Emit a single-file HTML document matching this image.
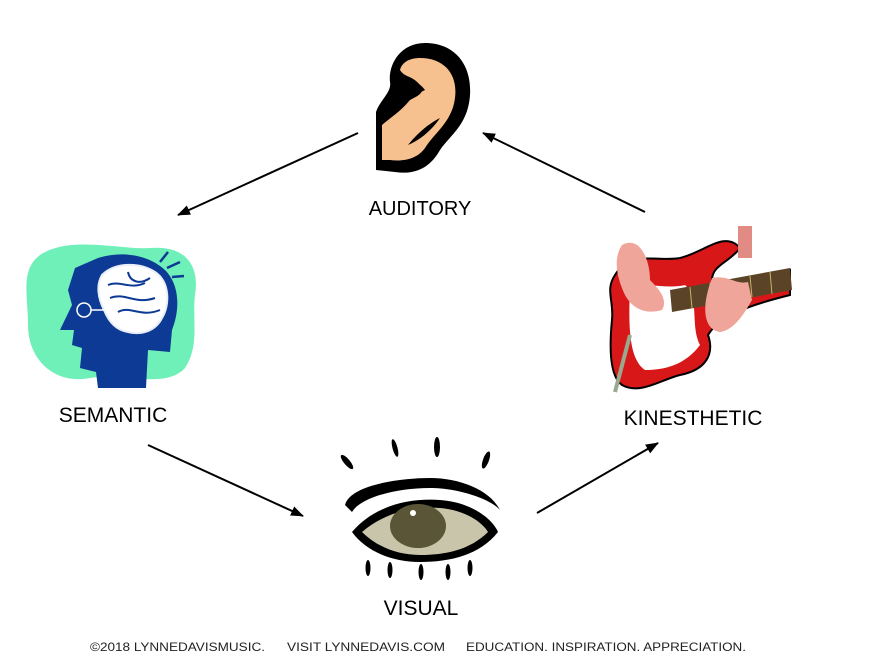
<!DOCTYPE html>
<html><head><meta charset="utf-8"><style>
html,body{margin:0;padding:0;background:#fff}
svg{display:block}
text{font-family:"Liberation Sans",Arial,sans-serif}
</style></head><body>
<svg width="870" height="672" viewBox="0 0 870 672" xmlns="http://www.w3.org/2000/svg">
<defs>
<marker id="ah" markerWidth="13" markerHeight="10" refX="12" refY="5" orient="auto" markerUnits="userSpaceOnUse" viewBox="0 0 13 10">
<path d="M0,0 L13,5 L0,10 Z" fill="#000"/>
</marker>
</defs>
<g stroke="#000" stroke-width="2" marker-end="url(#ah)">
<line x1="358" y1="133" x2="178" y2="215"/>
<line x1="645" y1="212" x2="483" y2="133"/>
<line x1="148" y1="445" x2="303" y2="516"/>
<line x1="537" y1="513" x2="658" y2="443"/>
</g>

<!-- Ear -->
<g>
<path d="M425,43 C455,43 472,65 470,95 C468,125 450,135 440,150 C430,168 415,175 395,172 L376,170 L376,112 C380,100 392,92 390,82 C388,65 400,43 425,43 Z" fill="#000"/>
<path d="M420,58 C445,58 458,75 455,98 C452,122 435,132 425,148 C418,158 405,162 390,160 L382,160 L382,125 C390,118 400,112 410,100 C420,95 425,92 420,85 C412,75 405,78 400,70 C402,62 410,58 420,58 Z" fill="#f7c08f"/>
<path d="M400,70 C405,80 418,80 425,90 L415,95 Z" fill="#000"/>
<path d="M408,145 C420,130 432,122 440,118 C432,130 420,140 408,145 Z" fill="#000"/>
</g>
<text x="420" y="215" font-size="20" text-anchor="middle">AUDITORY</text>

<!-- Head -->
<g>
<path d="M40,255 C70,235 120,250 150,248 C185,245 200,265 195,295 C192,320 200,345 185,368 C165,390 120,372 90,378 C55,385 28,360 28,325 C28,295 20,270 40,255 Z" fill="#6ff0b8"/>
<path d="M75,268 L98,258 C125,250 150,256 165,270 C180,285 180,310 172,330 L170,352 L148,350 L146,388 L98,388 L96,372 L80,368 L82,348 L72,345 L74,330 L60,330 L72,305 L68,290 Z" fill="#0c3a94"/>
<path d="M102,275 C115,262 140,262 155,272 C170,282 170,305 162,318 C155,332 140,335 128,332 C115,330 108,320 104,310 C98,298 96,285 102,275 Z" fill="#fff" stroke="#e9eef8" stroke-width="2"/>
<g fill="none" stroke="#0c3a94" stroke-width="2">
<path d="M108,285 C120,280 130,290 145,283 M110,298 C125,292 135,305 155,298 M118,312 C130,305 140,318 160,310 M128,272 C130,282 140,285 150,278"/>
</g>
<circle cx="84" cy="310" r="7" fill="none" stroke="#fff" stroke-width="1.5"/>
<line x1="91" y1="310" x2="108" y2="310" stroke="#fff" stroke-width="1.5"/>
<g stroke="#0c3a94" stroke-width="2.5">
<line x1="160" y1="262" x2="168" y2="252"/><line x1="167" y1="268" x2="180" y2="262"/><line x1="172" y1="277" x2="184" y2="276"/>
</g>
</g>
<text x="113" y="422" font-size="21" text-anchor="middle">SEMANTIC</text>

<!-- Guitar -->
<g>
<path d="M615,275 C630,250 660,262 680,258 C705,252 725,230 740,248 C730,262 712,265 712,280 C722,295 760,285 790,270 L790,295 C750,305 720,315 708,335 C715,355 705,370 680,375 C660,380 640,395 622,385 C608,375 610,340 612,320 C614,300 605,290 615,275 Z" fill="#d81818" stroke="#000" stroke-width="2"/>
<path d="M630,290 C645,280 665,290 685,285 C700,300 690,325 700,345 C685,365 665,370 645,370 C630,360 628,330 630,290 Z" fill="#fff"/>
<path d="M670,290 L790,268 L792,290 L672,312 Z" fill="#5b4327"/>
<g stroke="#c9b26a" stroke-width="1"><line x1="690" y1="287" x2="692" y2="308"/><line x1="710" y1="283" x2="712" y2="305"/><line x1="730" y1="280" x2="732" y2="301"/><line x1="750" y1="276" x2="752" y2="297"/><line x1="770" y1="272" x2="772" y2="294"/></g>
<rect x="738" y="226" width="14" height="32" fill="#e28a84"/>
<path d="M622,245 C640,235 650,260 650,280 C660,290 668,300 662,310 C645,315 632,308 625,295 C618,280 612,260 622,245 Z" fill="#f0a59a"/>
<path d="M712,278 C730,275 735,285 748,282 L752,300 C745,312 735,330 720,332 C705,330 700,310 712,278 Z" fill="#f0a59a"/>
<path d="M630,335 L615,392" stroke="#9aa88d" stroke-width="4"/>
</g>
<text x="693" y="425" font-size="21" text-anchor="middle">KINESTHETIC</text>

<!-- Eye -->
<g>
<path d="M345,505 C350,485 400,478 430,478 C460,478 490,490 500,510 C492,500 460,488 430,488 C395,488 360,498 352,512 Z" fill="#000"/>
<path d="M352,532 C375,505 410,498 440,500 C470,502 492,518 498,532 C480,555 450,562 420,562 C390,562 365,550 352,532 Z" fill="#000"/>
<path d="M362,532 C385,512 415,506 440,508 C465,510 482,522 488,532 C470,550 445,555 420,555 C395,555 375,545 362,532 Z" fill="#c8c5aa"/>
<ellipse cx="418" cy="526" rx="28" ry="22" fill="#5a5536"/>
<circle cx="413" cy="513" r="3" fill="#fff"/>
<g fill="#000">
<ellipse cx="347" cy="462" rx="3" ry="9" transform="rotate(-40 347 462)"/>
<ellipse cx="395" cy="448" rx="2.5" ry="9" transform="rotate(-15 395 448)"/>
<ellipse cx="437" cy="447" rx="3" ry="10"/>
<ellipse cx="486" cy="460" rx="3" ry="9" transform="rotate(20 486 460)"/>
<ellipse cx="368" cy="568" rx="2.5" ry="8"/>
<ellipse cx="390" cy="570" rx="2.5" ry="8"/>
<ellipse cx="421" cy="572" rx="2.5" ry="8"/>
<ellipse cx="448" cy="572" rx="2.5" ry="8"/>
<ellipse cx="470" cy="568" rx="2.5" ry="8"/>
</g>
</g>
<text x="421" y="615" font-size="21" text-anchor="middle">VISUAL</text>

<g font-size="11.5" fill="#222">
<text x="90" y="651" textLength="175" lengthAdjust="spacingAndGlyphs">©2018 LYNNEDAVISMUSIC.</text>
<text x="287" y="651" textLength="158" lengthAdjust="spacingAndGlyphs">VISIT LYNNEDAVIS.COM</text>
<text x="466" y="651" textLength="280" lengthAdjust="spacingAndGlyphs">EDUCATION.  INSPIRATION.  APPRECIATION.</text>
</g>
</svg>
</body></html>
